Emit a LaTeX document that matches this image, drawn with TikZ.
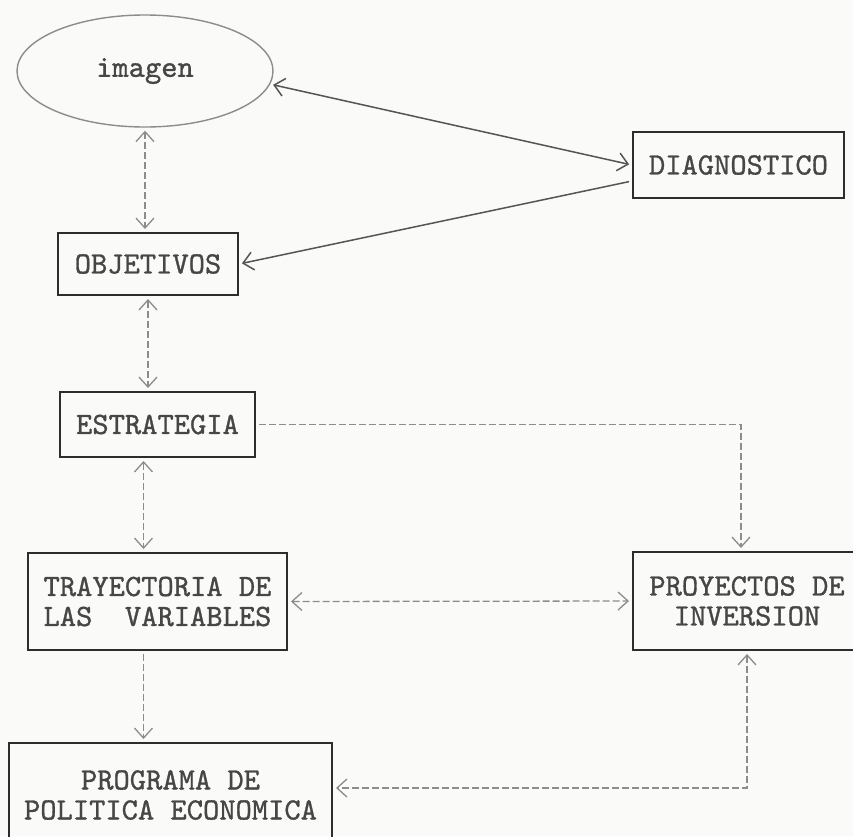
\documentclass[tikz,border=0pt]{standalone}
\usepackage{fontspec}
\newfontfamily\typefont{lmmono10-regular.otf}[FakeBold=1.0]
\definecolor{BoxColor}{RGB}{45,45,45}
\definecolor{TextColor}{RGB}{70,70,70}
\definecolor{LinkColor}{RGB}{85,85,85}
\definecolor{FaintColor}{RGB}{140,140,140}
\definecolor{PaperColor}{RGB}{250,250,248}
\usepackage{tikz}
\usetikzlibrary{positioning, arrows.meta, shapes.geometric}
\tikzstyle{link} = [LinkColor, line width=1.5pt, >={Straight Barb[length=10pt,width=18pt]}, shorten <=3pt, shorten >=3pt]
\tikzstyle{faint link} = [link, FaintColor, line width=1.3pt, dash pattern=on 7pt off 3pt]
\tikzset{
  stage/.style={rectangle, draw=BoxColor, line width=2pt, text=TextColor, inner sep=0pt,
    align=center, font=\fontsize{31}{30}\selectfont\typefont},
  idea/.style={ellipse, draw=FaintColor, line width=1.4pt, text=TextColor, inner sep=0pt,
    font=\fontsize{31}{30}\selectfont\typefont}
}

\begin{document}
\begin{tikzpicture}[x=1pt, y=-1pt]
    % Page
    \useasboundingbox (0,0) rectangle (853,836);
    \fill[PaperColor] (0,0) rectangle (853,836);
    \clip (0,0) rectangle (853,836);

    % Nodes
    \node[idea, minimum width=256pt, minimum height=112pt] (imagen) at (145,71) {imagen};
    \node[stage, minimum width=211pt, minimum height=66pt] (diag) at (738.5,165) {DIAGNOSTICO};
    \node[stage, minimum width=180pt, minimum height=62pt] (obj) at (148,264) {OBJETIVOS};
    \node[stage, minimum width=195pt, minimum height=65pt] (estr) at (157.5,424.5) {ESTRATEGIA};
    \node[stage, minimum width=259pt, minimum height=97pt] (tray) at (157.5,601.5) {TRAYECTORIA DE\\LAS\ \ VARIABLES};
    \node[stage, minimum width=228pt, minimum height=98pt] (proy) at (747,601) {PROYECTOS DE\\INVERSION};
    \node[stage, minimum width=323pt, minimum height=104pt] (prog) at (170.5,795) {PROGRAMA DE\\POLITICA ECONOMICA};

    % Links to the diagnosis
    \draw[link, <->] (imagen.-6) -- (diag.west);
    \draw[link, ->] ([yshift=-16pt]diag.west) -- (obj.east);

    % Vertical chain
    \draw[faint link, <->] (imagen.south) -- (imagen.south |- obj.north);
    \draw[faint link, <->] (obj.south) -- (obj.south |- estr.north);
    \draw[faint link, <->] ([xshift=-14pt]estr.south) -- ([xshift=-14pt]estr.south |- tray.north);
    \draw[faint link, ->] ([xshift=-14pt]tray.south) -- ([xshift=-14pt]tray.south |- prog.north);

    % Investment projects
    \draw[faint link, <->] (tray.east) -- (proy.west);
    \draw[faint link, ->] (estr.east) -| ([xshift=-6pt]proy.north);
    \draw[faint link, <->] (proy.south) |- ([yshift=7pt]prog.east);
\end{tikzpicture}
\end{document}
